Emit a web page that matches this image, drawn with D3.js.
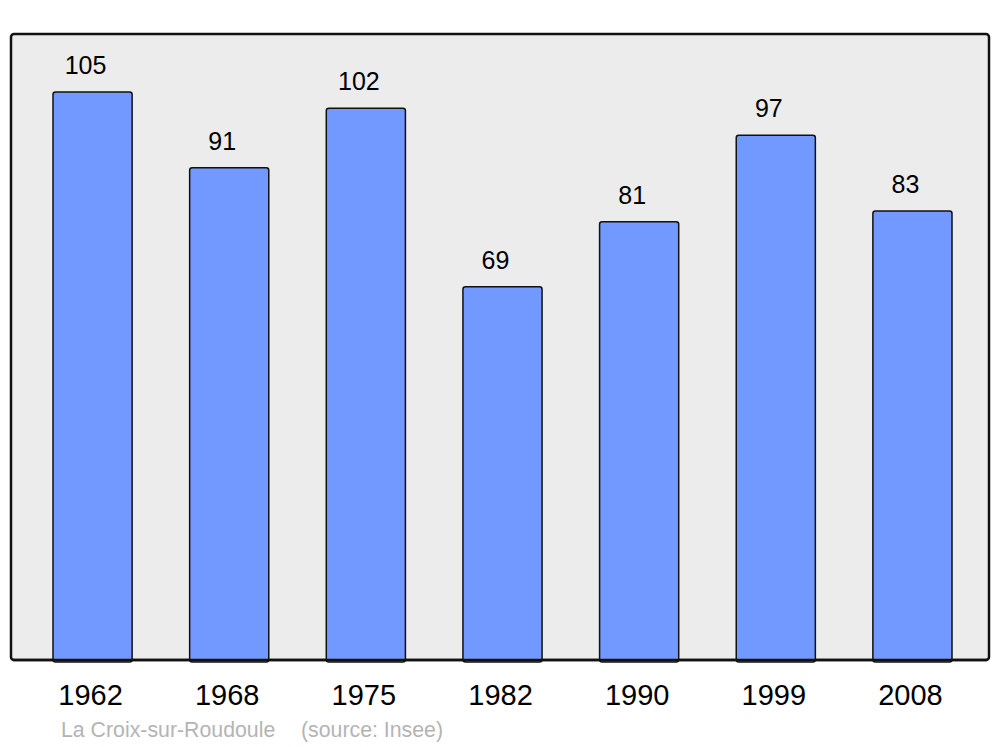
<!DOCTYPE html>
<html>
<head>
<meta charset="utf-8">
<script src="https://cdn.jsdelivr.net/npm/d3@7"></script>
<style>
  body { margin: 0; background: #fff; }
  text { font-family: "Liberation Sans", Arial, sans-serif; }
</style>
</head>
<body>
<div class="chart"></div>
<script>
var years = ["1962", "1968", "1975", "1982", "1990", "1999", "2008"];
var population = [105, 91, 102, 69, 81, 97, 83];
var townName = "La Croix-sur-Roudoule";
var sourceLabel = "(source: Insee)";

var values = { width: 1000, height: 747, left: 11, right: 989, top: 34, bottom: 660 };

var svg = d3.select(".chart").append("svg")
  .attr("width", values.width)
  .attr("height", values.height);

// frame of the plot
svg.append("rect")
  .attr("x", values.left)
  .attr("y", values.top)
  .attr("width", values.right - values.left)
  .attr("height", values.bottom - values.top)
  .attr("rx", 3)
  .attr("fill", "#ececec")
  .attr("stroke", "#111")
  .attr("stroke-width", 2.5);

var x = d3.scaleBand()
  .domain(years)
  .range([53, 952])
  .paddingInner(0.421)
  .paddingOuter(0);

var y = d3.scaleLinear()
  .domain([0, d3.max(population) * 1.102])
  .range([values.bottom, values.top]);

var data = years.map((yr, i) => ({ year: yr, value: population[i] }));

svg.selectAll("rect.bar")
  .data(data)
  .enter()
  .append("rect")
  .attr("class", "bar")
  .attr("x", d => x(d.year))
  .attr("y", d => y(d.value))
  .attr("width", x.bandwidth())
  .attr("height", d => values.bottom - y(d.value) + 2)
  .attr("rx", 2.5)
  .attr("fill", "#7299ff")
  .attr("stroke", "#111")
  .attr("stroke-width", 1.5);

// redraw frame bottom line over bar bottoms
svg.append("line")
  .attr("x1", values.left + 2)
  .attr("x2", values.right - 2)
  .attr("y1", values.bottom)
  .attr("y2", values.bottom)
  .attr("stroke", "#111")
  .attr("stroke-width", 2.5);

svg.selectAll("text.val")
  .data(data)
  .enter()
  .append("text")
  .attr("class", "val")
  .attr("x", d => x(d.year) + x.bandwidth() / 2 - 7)
  .attr("y", d => y(d.value) - 18)
  .attr("text-anchor", "middle")
  .attr("font-size", 25)
  .attr("fill", "#000")
  .text(d => d.value);

// year labels
var xAxis = d3.axisBottom(x).tickSize(0).tickPadding(0);
var gx = svg.append("g")
  .attr("transform", "translate(0," + values.bottom + ")")
  .call(xAxis);
gx.select(".domain").remove();
gx.selectAll("text")
  .attr("dy", null)
  .attr("y", 45)
  .attr("x", -2)
  .attr("font-size", 29)
  .attr("font-family", "Liberation Sans, Arial, sans-serif")
  .attr("fill", "#000");

svg.append("text")
  .attr("x", 61)
  .attr("y", 737)
  .attr("font-size", 21.3)
  .attr("fill", "#b4b4b4")
  .text(townName);

svg.append("text")
  .attr("x", 301)
  .attr("y", 737)
  .attr("font-size", 21.3)
  .attr("fill", "#b4b4b4")
  .text(sourceLabel);
</script>
</body>
</html>
